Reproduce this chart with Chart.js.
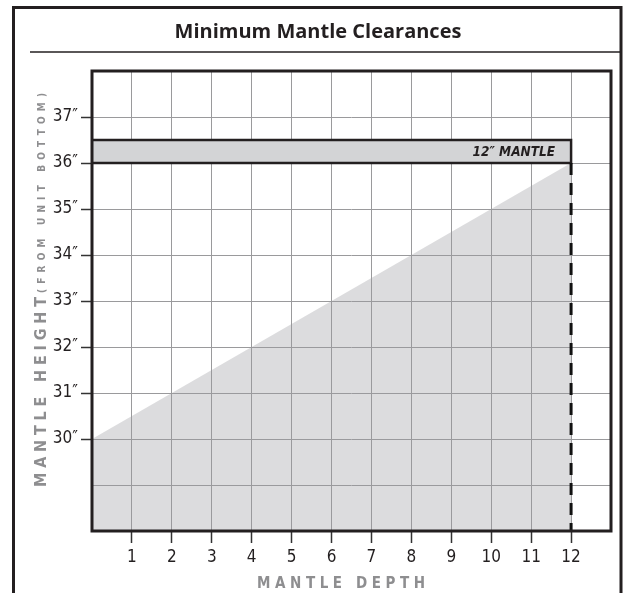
<!DOCTYPE html>
<html>
<head>
<meta charset="utf-8">
<script src="https://cdn.jsdelivr.net/npm/chart.js@4/dist/chart.umd.min.js"></script>
<style>
  html, body { margin: 0; padding: 0; background: #ffffff; }
  #wrap { width: 624px; height: 593px; }
</style>
</head>
<body>
<div id="wrap"><canvas id="c" width="624" height="593"></canvas></div>
<script>
// ---- data ----
const chartTitle = 'Minimum Mantle Clearances';
const xAxisTitle = 'MANTLE DEPTH';
const yAxisTitleMain = 'MANTLE HEIGHT';
const yAxisTitleSub = '(FROM UNIT BOTTOM)';
const mantleLabel = '12\u2033 MANTLE';

const depthRange = [0, 13];          // x axis (inches of mantle depth)
const heightRange = [28, 38];        // y axis (inches from unit bottom)
const depthTickLabels = [1, 2, 3, 4, 5, 6, 7, 8, 9, 10, 11, 12];
const heightTickLabels = [30, 31, 32, 33, 34, 35, 36, 37];

const clearanceDepth = [0, 12];      // minimum clearance line
const clearanceHeight = [30, 36];

const mantleDepth = [0, 12];         // 12" mantle bar
const mantleBottom = [36, 36];
const mantleTop = [36.5, 36.5];

const dashDepth = [12, 12];
const dashHeight = [36, 28];

const pts = (xs, ys) => xs.map((x, i) => ({ x: x, y: ys[i] }));

const NARROW = "'Liberation Sans Narrow', 'DejaVu Sans Condensed', 'Open Sans', sans-serif";
const INK = '#231f20';
const AXIS_GRAY = '#8e8e90';

const decorPlugin = {
  id: 'decor',
  beforeDraw(chart) {
    const ctx = chart.ctx;
    ctx.save();
    ctx.fillStyle = '#ffffff';
    ctx.fillRect(0, 0, chart.width, chart.height);
    ctx.restore();
  },
  afterDatasetsDraw(chart) {
    const ctx = chart.ctx;
    const xs = chart.scales.x, ys = chart.scales.y;
    // mantle label
    ctx.save();
    ctx.font = 'italic bold 13.5px ' + NARROW;
    ctx.fillStyle = INK;
    ctx.textAlign = 'right';
    ctx.textBaseline = 'middle';
    ctx.fillText(mantleLabel, xs.getPixelForValue(mantleDepth[1]) - 16,
      ys.getPixelForValue((mantleBottom[1] + mantleTop[1]) / 2) + 0.5);
    ctx.restore();
  },
  afterDraw(chart) {
    const ctx = chart.ctx;
    const a = chart.chartArea;
    ctx.save();
    // outer frame
    ctx.strokeStyle = INK;
    ctx.lineWidth = 3;
    ctx.strokeRect(13.5, 7.5, 607.5, 620);
    // title
    ctx.fillStyle = INK;
    ctx.font = 'bold 20px ' + "'Open Sans', sans-serif";
    ctx.textAlign = 'center';
    ctx.textBaseline = 'middle';
    ctx.fillText(chartTitle, 318, 32);
    // title underline
    ctx.lineWidth = 1.5;
    ctx.beginPath();
    ctx.moveTo(30, 52);
    ctx.lineTo(621, 52);
    ctx.stroke();
    // plot frame
    ctx.lineWidth = 3;
    ctx.strokeRect(a.left, a.top, a.right - a.left, a.bottom - a.top);

    // x axis title
    ctx.fillStyle = AXIS_GRAY;
    ctx.font = 'bold 15px ' + NARROW;
    ctx.textAlign = 'left';
    ctx.textBaseline = 'alphabetic';
    let target = 168;
    ctx.letterSpacing = '0px';
    let w0 = ctx.measureText(xAxisTitle).width;
    let sp = (target - w0) / (xAxisTitle.length - 1);
    ctx.letterSpacing = sp + 'px';
    ctx.fillText(xAxisTitle, 257, 588);

    // y axis title (rotated)
    ctx.translate(46, 487);
    ctx.rotate(-Math.PI / 2);
    ctx.font = 'bold 16px ' + NARROW;
    ctx.letterSpacing = '0px';
    w0 = ctx.measureText(yAxisTitleMain).width;
    sp = (190 - w0) / (yAxisTitleMain.length - 1);
    ctx.letterSpacing = sp + 'px';
    ctx.fillText(yAxisTitleMain, 0, 0);
    ctx.font = 'bold 10px ' + NARROW;
    ctx.letterSpacing = '0px';
    w0 = ctx.measureText(yAxisTitleSub).width;
    sp = (200 - w0) / (yAxisTitleSub.length - 1);
    ctx.letterSpacing = sp + 'px';
    ctx.fillText(yAxisTitleSub, 194, -1);
    ctx.restore();
  }
};

const ctx = document.getElementById('c').getContext('2d');
new Chart(ctx, {
  type: 'line',
  data: {
    datasets: [
      {
        label: 'dashed',
        data: pts(dashDepth, dashHeight),
        borderColor: '#111111',
        borderWidth: 3,
        borderDash: [12, 8],
        pointRadius: 0,
        fill: false,
        order: 1
      },
      {
        label: 'mantle outline',
        data: pts([mantleDepth[0], mantleDepth[1], mantleDepth[1], mantleDepth[0]],
                  [mantleBottom[0], mantleBottom[1], mantleTop[1], mantleTop[0]]),
        borderColor: INK,
        borderWidth: 2.5,
        pointRadius: 0,
        fill: false,
        order: 2
      },
      {
        label: 'mantle top',
        data: pts(mantleDepth, mantleTop),
        borderWidth: 0,
        borderColor: 'rgba(0,0,0,0)',
        backgroundColor: '#d3d4d6',
        pointRadius: 0,
        fill: '+1',
        order: 3
      },
      {
        label: 'mantle bottom',
        data: pts(mantleDepth, mantleBottom),
        borderWidth: 0,
        borderColor: 'rgba(0,0,0,0)',
        pointRadius: 0,
        fill: false,
        order: 4
      },
      {
        label: 'clearance',
        data: pts(clearanceDepth, clearanceHeight),
        borderWidth: 0,
        borderColor: 'rgba(0,0,0,0)',
        backgroundColor: 'rgba(155,155,161,0.35)',
        pointRadius: 0,
        fill: 'start',
        order: 5
      }
    ]
  },
  options: {
    responsive: false,
    animation: false,
    events: [],
    layout: { padding: { top: 71, right: 13, left: 0, bottom: 0 } },
    plugins: {
      legend: { display: false },
      title: { display: false },
      tooltip: { enabled: false }
    },
    scales: {
      x: {
        type: 'linear',
        min: depthRange[0],
        max: depthRange[1],
        afterFit: (s) => { s.height = 62; },
        afterBuildTicks: (s) => {
          const t = [];
          for (let v = depthRange[0]; v <= depthRange[1]; v++) t.push({ value: v });
          s.ticks = t;
        },
        border: { display: false },
        grid: {
          color: '#9a9a9c',
          lineWidth: 1,
          drawTicks: true,
          tickLength: 12,
          tickWidth: 1.5,
          tickColor: (c) => depthTickLabels.includes(c.tick && c.tick.value) ? '#333333' : 'rgba(0,0,0,0)'
        },
        ticks: {
          autoSkip: false,
          maxRotation: 0,
          padding: 4,
          color: '#231f20',
          font: { family: NARROW, size: 17 },
          callback: (v) => depthTickLabels.includes(v) ? String(v) : ''
        }
      },
      y: {
        type: 'linear',
        min: heightRange[0],
        max: heightRange[1],
        afterFit: (s) => { s.width = 92; },
        afterBuildTicks: (s) => {
          const t = [];
          for (let v = heightRange[0]; v <= heightRange[1]; v++) t.push({ value: v });
          s.ticks = t;
        },
        border: { display: false },
        grid: {
          color: '#9a9a9c',
          lineWidth: 1,
          drawTicks: true,
          tickLength: 11,
          tickWidth: 1.5,
          tickColor: (c) => heightTickLabels.includes(c.tick && c.tick.value) ? '#333333' : 'rgba(0,0,0,0)'
        },
        ticks: {
          autoSkip: false,
          padding: 3,
          color: '#231f20',
          font: { family: NARROW, size: 17 },
          callback: (v) => heightTickLabels.includes(v) ? v + '\u2033' : ''
        }
      }
    }
  },
  plugins: [decorPlugin]
});
</script>
</body>
</html>
